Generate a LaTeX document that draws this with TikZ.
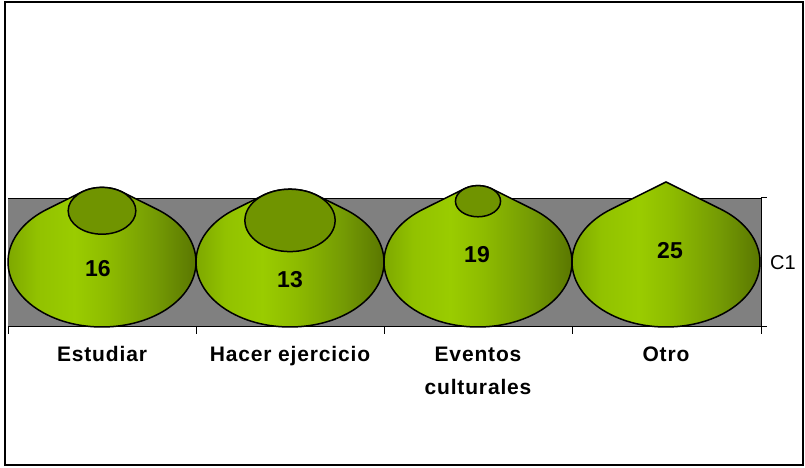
\documentclass[tikz,border=0pt]{standalone}
\usepackage{fontspec}
\setmainfont{Liberation Sans}
\newfontfamily\lblfont[LetterSpace=4]{Liberation Sans}
\definecolor{plotgray}{RGB}{128,128,128}
\definecolor{topgreen}{RGB}{112,148,0}
\definecolor{gA}{RGB}{124,166,0}
\definecolor{gB}{RGB}{146,194,0}
\definecolor{gC}{RGB}{154,204,0}
\definecolor{gD}{RGB}{142,188,0}
\definecolor{gE}{RGB}{116,154,4}
\definecolor{gF}{RGB}{82,108,0}
\pgfdeclarehorizontalshading{conesh}{100bp}{color(0bp)=(gA); color(25bp)=(gA); color(33bp)=(gB); color(42bp)=(gC); color(50bp)=(gD); color(62bp)=(gE); color(75bp)=(gF); color(100bp)=(gF)}
\newcommand\mycone[2]{% #1 centre x, #2 value
  \pgfmathsetmacro\conH{80*#2/25}
  \pgfmathsetmacro\conK{max(1-#2/25,0.0005)}
  \pgfmathsetmacro\conA{94*\conK}
  \pgfmathsetmacro\conB{65*\conK}
  \pgfmathsetmacro\conT{206+\conH}
  \shadedraw[shading=conesh, outl] ({#1+94*cos(54.34)},{206+65*sin(54.34)})
     arc[start angle=54.34, end angle=-234.34, x radius=94, y radius=65]
     -- ({#1+\conA*cos(125.66)},{\conT+\conB*sin(125.66)})
     arc[start angle=125.66, end angle=54.34, x radius=\conA, y radius=\conB]
     -- cycle;
  \ifnum#2<25
    \path[topface] (#1,\conT) ellipse[x radius=\conA, y radius=\conB];
  \fi
}
\begin{document}
\begin{tikzpicture}[x=1pt,y=1pt,
  outl/.style={draw=black, line width=1.5pt, line join=round},
  topface/.style={fill=topgreen, draw=black, line width=1.5pt},
  axisline/.style={draw=black, line width=1pt},
  catlbl/.style={font=\lblfont\bfseries\fontsize{21}{24}\selectfont, anchor=base, inner sep=0pt},
  numlbl/.style={font=\bfseries\fontsize{23}{26}\selectfont, anchor=base, inner sep=0pt},
  serlbl/.style={font=\fontsize{20}{24}\selectfont, anchor=center, inner sep=0pt}]
\useasboundingbox (0,0) rectangle (805,468);
\fill[white] (0,0) rectangle (805,468);
% outer frame
\draw[line width=2pt] (5,466) rectangle (803,3);
% plot area
\coordinate (pl) at (8,141);
\coordinate (pr) at (761,141);
\coordinate (tl) at (8,270);
\coordinate (tr) at (761,270);
\fill[plotgray] (pl) rectangle (tr);
\draw[line width=0.8pt] (tl) -- (tr);
% cones
\mycone{102}{16}
\mycone{290}{13}
\mycone{478}{19}
\mycone{666}{25}
% axes
\draw[axisline] (pl) -- (pr);
\draw[axisline] (pr) -- (tr);
\foreach \i/\xx in {0/8,1/196.25,2/384.5,3/572.75,4/761}{
  \coordinate (tk\i) at (\xx,141);
  \coordinate (tb\i) at (\xx,134);
  \draw[axisline] (tk\i) -- (tb\i);
}
\coordinate (rt1) at (767,141);
\coordinate (rt2) at (767,270);
\draw[axisline] (pr) -- (rt1);
\draw[axisline] (tr) -- (rt2);
% values
\node[numlbl] (v1) at (98,191) {16};
\node[numlbl] (v2) at (290,180) {13};
\node[numlbl] (v3) at (477,205) {19};
\node[numlbl] (v4) at (670,209) {25};
% series label
\node[serlbl] (c1) at (783,205) {C1};
% category labels
\node[catlbl] (l1) at (102,106) {Estudiar};
\node[catlbl] (l2) at (290,106) {Hacer ejercicio};
\node[catlbl] (l3a) at (478,106) {Eventos};
\node[catlbl] (l3b) at (478,73) {culturales};
\node[catlbl] (l4) at (666,106) {Otro};
\end{tikzpicture}
\end{document}
